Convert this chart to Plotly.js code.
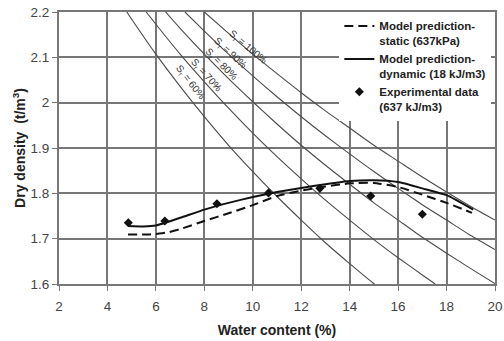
<!DOCTYPE html>
<html>
<head>
<meta charset="utf-8">
<script src="https://cdn.plot.ly/plotly-3.0.1.min.js"></script>
<style>html,body{margin:0;padding:0;background:#fff;}#chart{width:504px;height:341px;}</style>
</head>
<body>
<div id="chart"></div>
<script>
// Experimental data
const expW = [4.86, 6.37, 8.52, 10.65, 12.77, 14.87, 17.0];
const expRho = [1.735, 1.739, 1.777, 1.801, 1.811, 1.794, 1.754];

// Model prediction - dynamic (solid)
const dynW = [4.85, 5.5, 6, 7, 8, 9, 10, 11, 12, 13, 14, 15, 16, 17, 18, 19.1];
const dynRho = [1.728, 1.727, 1.729, 1.746, 1.764, 1.779, 1.792, 1.803, 1.812, 1.820, 1.827, 1.829, 1.825, 1.811, 1.796, 1.764];

// Model prediction - static (dashed)
const staW = [4.85, 5.5, 6, 6.5, 7, 8, 9, 10, 11, 12, 13, 14, 15, 16, 17, 18, 19.05];
const staRho = [1.709, 1.709, 1.710, 1.714, 1.721, 1.739, 1.756, 1.774, 1.794, 1.806, 1.815, 1.822, 1.823, 1.814, 1.797, 1.779, 1.757];

// Saturation lines
const s100W = [8.0, 9, 10, 11, 12, 13, 14, 15, 16, 17, 18, 19, 20];
const s100Rho = [2.200, 2.153, 2.107, 2.064, 2.022, 1.982, 1.944, 1.906, 1.871, 1.836, 1.803, 1.771, 1.741];
const s90W = [7.2, 8, 9, 10, 11, 12, 13, 14, 15, 16, 17, 18, 19, 20];
const s90Rho = [2.200, 2.158, 2.107, 2.059, 2.013, 1.969, 1.927, 1.887, 1.848, 1.811, 1.775, 1.741, 1.707, 1.676];
const s80W = [6.4, 7, 8, 9, 10, 11, 12, 13, 14, 15, 16, 17, 18, 19, 20];
const s80Rho = [2.200, 2.164, 2.107, 2.053, 2.002, 1.953, 1.906, 1.862, 1.820, 1.779, 1.741, 1.703, 1.668, 1.634, 1.601];
const s70W = [5.6, 6, 7, 8, 9, 10, 11, 12, 13, 14, 15, 16, 17, 17.53];
const s70Rho = [2.200, 2.173, 2.107, 2.046, 1.988, 1.933, 1.881, 1.832, 1.785, 1.741, 1.698, 1.658, 1.620, 1.600];
const s60W = [4.8, 5, 6, 7, 8, 9, 10, 11, 12, 13, 14, 15, 15.03];
const s60Rho = [2.200, 2.184, 2.107, 2.036, 1.969, 1.906, 1.848, 1.793, 1.741, 1.691, 1.645, 1.601, 1.600];

const satLabels = ["S<sub>r</sub> = 100%", "S<sub>r</sub> = 90%", "S<sub>r</sub> = 80%", "S<sub>r</sub> = 70%", "S<sub>r</sub> = 60%"];
const satLabelW = [9.80, 9.06, 8.69, 8.07, 7.41];
const satLabelRho = [2.123, 2.109, 2.085, 2.061, 2.045];
const satLabelAngle = [40, 43, 45, 48, 52];

const xTicks = [2, 4, 6, 8, 10, 12, 14, 16, 18, 20];
const yTicks = [1.6, 1.7, 1.8, 1.9, 2.0, 2.1, 2.2];
const yTickText = ["1.6", "1.7", "1.8", "1.9", "2", "2.1", "2.2"];

const satSets = [[s100W, s100Rho], [s90W, s90Rho], [s80W, s80Rho], [s70W, s70Rho], [s60W, s60Rho]];
const traces = satSets.map(s => ({
  x: s[0], y: s[1], type: 'scatter', mode: 'lines', showlegend: false,
  line: {color: '#4a4a4a', width: 1.1, shape: 'spline', smoothing: 0.6}, hoverinfo: 'skip'
}));

traces.push({
  x: staW, y: staRho, type: 'scatter', mode: 'lines',
  name: 'Model prediction-<br>static (637kPa)',
  line: {color: '#111', width: 2, dash: '9px,5px', shape: 'spline', smoothing: 0.5}
});
traces.push({
  x: dynW, y: dynRho, type: 'scatter', mode: 'lines',
  name: 'Model prediction-<br>dynamic (18 kJ/m3)',
  line: {color: '#111', width: 2, shape: 'spline', smoothing: 0.5}
});
traces.push({
  x: expW, y: expRho, type: 'scatter', mode: 'markers',
  name: 'Experimental data<br>(637 kJ/m3)',
  marker: {symbol: 'diamond', size: 7, color: '#111'}
});

const annotations = satLabels.map((t, i) => ({
  x: satLabelW[i], y: satLabelRho[i], xref: 'x', yref: 'y', text: t,
  showarrow: false, textangle: satLabelAngle[i],
  font: {family: 'Liberation Sans, Arial, sans-serif', size: 10, color: '#333'}
}));

const layout = {
  width: 504, height: 341,
  margin: {l: 59, r: 8.5, t: 12, b: 57},
  paper_bgcolor: '#fff', plot_bgcolor: '#fff',
  font: {family: 'Liberation Sans, Arial, sans-serif', color: '#333'},
  showlegend: true,
  legend: {
    x: 0.643, y: 1, xanchor: 'left', yanchor: 'top',
    bgcolor: '#fff', borderwidth: 0, valign: 'top',
    font: {size: 11.5, color: '#222', weight: 'bold'},
    itemwidth: 30, tracegroupgap: 0
  },
  xaxis: {
    range: [2, 20], tickvals: xTicks, ticktext: xTicks.map(String),
    showgrid: true, gridcolor: '#777', gridwidth: 2,
    showline: true, linecolor: '#777', linewidth: 2, mirror: true,
    ticks: 'outside', ticklen: 5, tickcolor: '#777', zeroline: false,
    ticklabelstandoff: 4,
    tickfont: {size: 13.5, color: '#444'},
    title: {text: '<b>Water content (%)</b>', font: {size: 14, color: '#222'}, standoff: 12}
  },
  yaxis: {
    range: [1.6, 2.2], tickvals: yTicks, ticktext: yTickText,
    showgrid: true, gridcolor: '#777', gridwidth: 2,
    showline: true, linecolor: '#777', linewidth: 2, mirror: true,
    ticks: 'outside', ticklen: 5, tickcolor: '#777', zeroline: false,
    tickfont: {size: 13.5, color: '#444'},
    title: {text: '<b>Dry density  (t/m<sup>3</sup>)</b>', font: {size: 14, color: '#222'}, standoff: 2}
  },
  annotations: annotations
};

Plotly.newPlot('chart', traces, layout, {displayModeBar: false, staticPlot: true});
</script>
</body>
</html>
